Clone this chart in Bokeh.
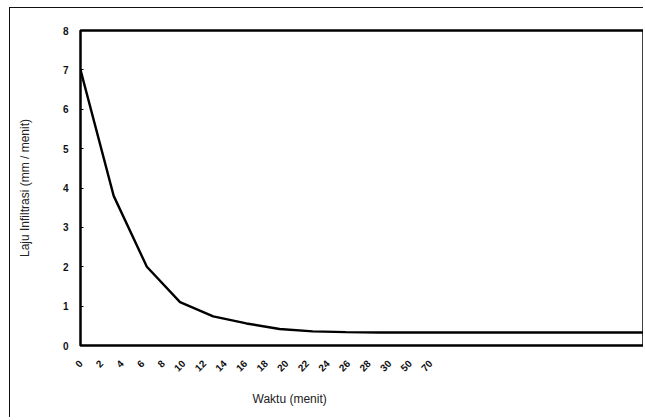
from bokeh.plotting import figure
from bokeh.models import Range1d, LinearAxis, FixedTicker, Title
from bokeh.embed import file_html
from bokeh.resources import INLINE
import math

# categories (minutes) as printed on the x axis
waktu_labels = ["0", "2", "4", "6", "8", "10", "12", "14", "16", "18",
                "20", "22", "24", "26", "28", "30", "50", "70"]
# infiltration rate (mm / menit)
laju = [7.0, 3.8, 2.0, 1.1, 0.74, 0.56, 0.42, 0.36, 0.34, 0.33,
        0.33, 0.33, 0.33, 0.33, 0.33, 0.33, 0.33, 0.33]
y_ticks = [0, 1, 2, 3, 4, 5, 6, 7, 8]

idx = list(range(len(laju)))

p = figure(width=634, height=410, output_backend="svg", toolbar_location=None,
           x_range=Range1d(0, len(laju) - 1), y_range=Range1d(0, 8),
           x_axis_location=None, y_axis_location="left",
           min_border_left=70, min_border_right=0, min_border_top=22,
           min_border_bottom=73)
p.styles = {"margin-left": "9px", "margin-top": "7px",
            "border-left": "1.5px solid #111", "border-top": "1.5px solid #111"}
p.grid.visible = False
p.outline_line_color = "#000000"
p.outline_line_width = 2.5
p.background_fill_color = "white"
p.border_fill_color = "white"

p.line(idx, laju, line_color="#000000", line_width=2.4)

# y axis
ya = p.yaxis[0]
ya.ticker = FixedTicker(ticks=y_ticks)
ya.axis_line_color = None
ya.major_tick_in = 3
ya.major_tick_out = 0
ya.minor_tick_line_color = None
ya.major_label_text_font = "Liberation Sans"
ya.major_label_text_font_size = "10px"
ya.major_label_text_font_style = "bold"
ya.major_label_text_color = "#111111"
ya.major_label_standoff = 12
ya.axis_label = "Laju Infiltrasi (mm / menit)"
ya.axis_label_text_font = "Liberation Sans"
ya.axis_label_text_font_size = "12px"
ya.axis_label_text_font_style = "normal"
ya.axis_label_text_color = "#222222"
ya.axis_label_standoff = 28

# x axis: category labels as printed (spacing as in the picture)
p.extra_x_ranges = {"cat": Range1d(0, 27.4)}
xa = LinearAxis(x_range_name="cat")
xa.ticker = FixedTicker(ticks=list(range(len(waktu_labels))))
xa.major_label_overrides = {i: s for i, s in enumerate(waktu_labels)}
xa.major_label_orientation = math.pi / 4
xa.axis_line_color = None
xa.major_tick_line_color = None
xa.minor_tick_line_color = None
xa.major_label_text_font = "Liberation Sans"
xa.major_label_text_font_size = "10px"
xa.major_label_text_font_style = "bold"
xa.major_label_text_color = "#111111"
xa.major_label_standoff = 10
p.add_layout(xa, "below")

p.add_layout(Title(text="Waktu (menit)", align="left", offset=172,
                   text_font="Liberation Sans", text_font_size="12px",
                   text_font_style="normal", text_color="#222222",
                   standoff=23), "below")

open("out.html", "w").write(file_html(p, INLINE))
